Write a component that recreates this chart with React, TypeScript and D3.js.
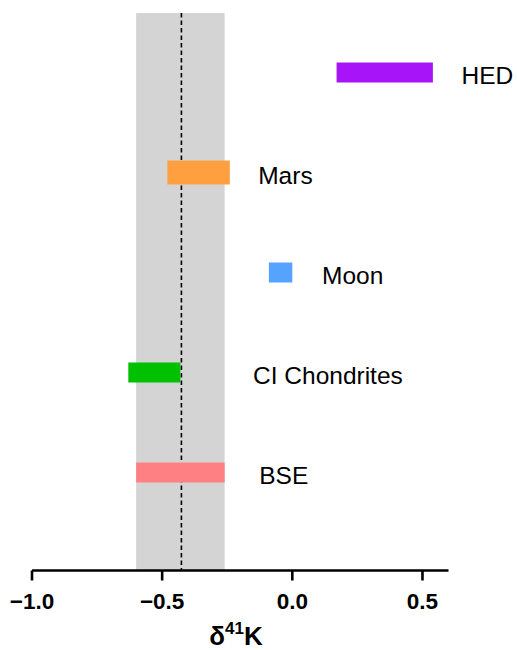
import React from "react";
import * as d3 from "d3";

// δ41K ranges (‰) for each reservoir, bottom row first
const categories = ["BSE", "CI Chondrites", "Moon", "Mars", "HED"];
const rangeLow = [-0.6, -0.63, -0.09, -0.48, 0.17];
const rangeHigh = [-0.26, -0.43, 0.0, -0.24, 0.54];
const rowIndex = [1, 2, 3, 4, 5];
// where each name label starts, in δ41K units
const labelStart = [-0.127, -0.151, 0.114, -0.131, 0.65];

// shaded reference band and its mean
const bandLow = -0.6;
const bandHigh = -0.26;
const bandMean = -0.426;

const xTicks = [-1.0, -0.5, 0.0, 0.5];
const xDomain = [-1.0, 0.6];

const colors: Record<string, string> = {
  BSE: "#FF8082",
  "CI Chondrites": "#00C000",
  Moon: "#55A2FF",
  Mars: "#FFA040",
  HED: "#A714F8",
};
const thickness: Record<string, number> = {
  BSE: 20,
  "CI Chondrites": 20,
  Moon: 20,
  Mars: 24,
  HED: 20,
};

const W = 517;
const H = 650;
const left = 32;
const right = 448.5;
const top = 13;
const axisY = 570.5;

export default function App() {
  const x = d3.scaleLinear().domain(xDomain).range([left, right]);
  const y = d3.scaleLinear().domain([0, 5.575]).range([axisY, top]);
  const font = "'Liberation Sans', Arial, Helvetica, sans-serif";

  return (
    <svg
      width={W}
      height={H}
      style={{ position: "absolute", left: 0, top: 0, background: "#fff" }}
      fontFamily={font}
    >
      <rect
        x={x(bandLow)}
        y={top}
        width={x(bandHigh) - x(bandLow)}
        height={axisY - top}
        fill="#D4D4D4"
      />
      <line
        x1={x(bandMean)}
        x2={x(bandMean)}
        y1={top}
        y2={axisY}
        stroke="#000"
        strokeWidth={1.6}
        strokeDasharray="4.5,3"
      />
      {categories.map((c, i) => {
        const h = thickness[c];
        const cy = y(rowIndex[i]) + 2;
        return (
          <g key={c}>
            <rect
              x={x(rangeLow[i])}
              y={cy - h / 2}
              width={x(rangeHigh[i]) - x(rangeLow[i])}
              height={h}
              fill={colors[c]}
            />
            <text
              x={x(labelStart[i])}
              y={y(rowIndex[i]) + 13}
              fontSize={24.5}
              fill="#000"
            >
              {c}
            </text>
          </g>
        );
      })}
      <line x1={left} x2={right} y1={axisY} y2={axisY} stroke="#000" strokeWidth={2.6} />
      {xTicks.map((t) => (
        <g key={t}>
          <line x1={x(t)} x2={x(t)} y1={axisY} y2={axisY + 10} stroke="#000" strokeWidth={2.6} />
          <text
            x={x(t)}
            y={608.5}
            textAnchor="middle"
            fontSize={22.5}
            fontWeight="bold"
          >
            {d3.format(".1f")(t)}
          </text>
        </g>
      ))}
      <text x={236} y={645} textAnchor="middle" fontSize={26} fontWeight="bold">
        δ
        <tspan dy={-11} fontSize={17}>
          41
        </tspan>
        <tspan dy={11}>K</tspan>
      </text>
    </svg>
  );
}
